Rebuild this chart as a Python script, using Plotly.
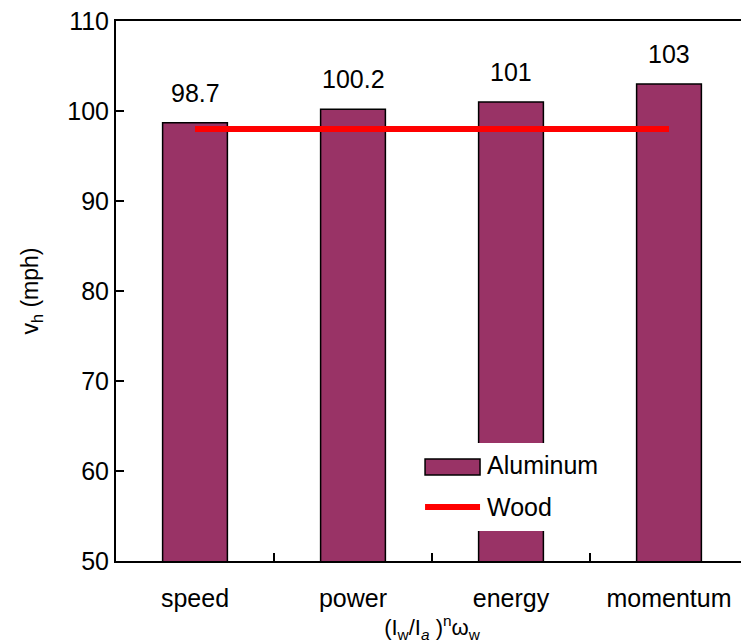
import plotly.graph_objects as go

categories = ["speed", "power", "energy", "momentum"]
aluminum = [98.7, 100.2, 101, 103]
aluminum_labels = ["98.7", "100.2", "101", "103"]
wood = [98, 98, 98, 98]
series_names = ["Aluminum", "Wood"]

FONT = "Liberation Sans, Arial, sans-serif"
BAR_COLOR = "#993366"
WOOD_COLOR = "#ff0000"

fig = go.Figure()
fig.add_trace(go.Bar(
    x=categories, y=aluminum, name=series_names[0],
    marker=dict(color=BAR_COLOR, line=dict(color="black", width=1.5)),
    width=0.41,
))
fig.add_trace(go.Scatter(
    x=categories, y=wood, name=series_names[1], mode="lines",
    line=dict(color=WOOD_COLOR, width=6),
))
for c, v, t in zip(categories, aluminum, aluminum_labels):
    fig.add_annotation(x=c, y=v, text=t, showarrow=False, yshift=30,
                       font=dict(family=FONT, size=25, color="black"))

# legend drawn inside plot (white box covering bar, like the original)
fig.add_shape(type="rect", xref="x domain", yref="y domain",
              x0=0.478, x1=0.77, y0=0.0556, y1=0.2185,
              fillcolor="white", line=dict(width=0), layer="above")
fig.add_shape(type="rect", xref="x domain", yref="y domain",
              x0=0.489, x1=0.576, y0=0.1593, y1=0.1889,
              fillcolor=BAR_COLOR, line=dict(color="black", width=1.5), layer="above")
fig.add_shape(type="line", xref="x domain", yref="y domain",
              x0=0.489, x1=0.576, y0=0.1, y1=0.1,
              line=dict(color=WOOD_COLOR, width=6), layer="above")
fig.add_annotation(xref="x domain", yref="y domain", x=0.584, y=0.177,
                   xanchor="left", yanchor="middle", showarrow=False,
                   text=series_names[0], font=dict(family=FONT, size=25))
fig.add_annotation(xref="x domain", yref="y domain", x=0.584, y=0.1,
                   xanchor="left", yanchor="middle", showarrow=False,
                   text=series_names[1], font=dict(family=FONT, size=25))

fig.update_layout(
    width=749, height=644,
    margin=dict(l=108, r=9, t=13, b=91),
    plot_bgcolor="white", paper_bgcolor="white",
    font=dict(family=FONT, size=25, color="black"),
    showlegend=False,
    xaxis=dict(
        automargin=False,
        showline=True, linecolor="black", linewidth=2, mirror=True,
        ticks="inside", ticklen=8, tickcolor="black", tickwidth=1.5,
        tickson="boundaries", ticklabelstandoff=14,
        ticklabeloverflow="allow",
        tickfont=dict(size=25),
        title=dict(text="(I<sub>w</sub>/I<sub><i>a</i></sub> )<sup>n</sup>ω<sub>w</sub>",
                   font=dict(size=22), standoff=0),
    ),
    yaxis=dict(
        automargin=False,
        range=[50, 110], dtick=10, showgrid=False, zeroline=False,
        showline=True, linecolor="black", linewidth=2, mirror=True,
        ticks="inside", ticklen=8, tickcolor="black", tickwidth=1.5,
        ticklabeloverflow="allow",
        tickfont=dict(size=25),
        title=dict(text="v<sub>h</sub> (mph)", font=dict(size=23), standoff=22),
    ),
)

fig.write_html("out.html")
